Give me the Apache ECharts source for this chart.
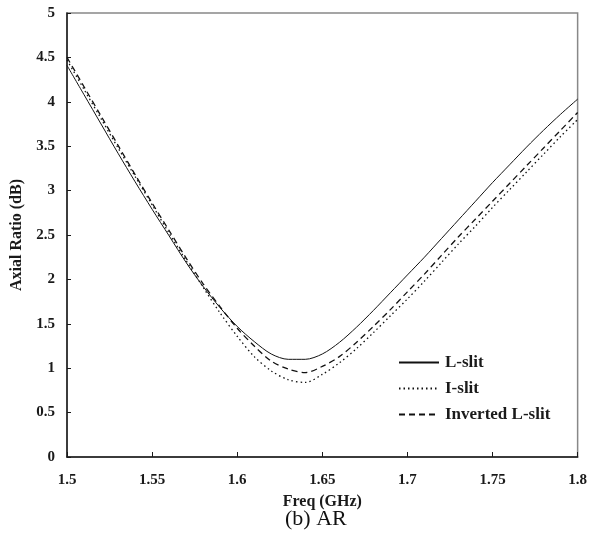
<!DOCTYPE html>
<html>
<head>
<meta charset="utf-8">
<script src="https://cdn.jsdelivr.net/npm/echarts@6/dist/echarts.min.js"></script>
<style>
html, body { margin: 0; padding: 0; background: #fff; }
#container { width: 590px; height: 543px; }
</style>
</head>
<body>
<div id="container"></div>
<script>
var freq = [1.50, 1.51, 1.52, 1.53, 1.54, 1.55, 1.56, 1.57, 1.58, 1.59, 1.60,
            1.61, 1.62, 1.63, 1.64, 1.65, 1.66, 1.67, 1.68, 1.69, 1.70,
            1.71, 1.72, 1.73, 1.74, 1.75, 1.76, 1.77, 1.78, 1.79, 1.80];
var lSlit = [4.41, 4.08, 3.75, 3.42, 3.10, 2.79, 2.49, 2.19, 1.92, 1.68, 1.47,
             1.30, 1.16, 1.10, 1.10, 1.16, 1.29, 1.46, 1.65, 1.85, 2.05,
             2.25, 2.46, 2.67, 2.88, 3.09, 3.29, 3.49, 3.68, 3.86, 4.03];
var iSlit = [4.47, 4.14, 3.81, 3.48, 3.16, 2.84, 2.52, 2.21, 1.91, 1.62, 1.36,
             1.13, 0.97, 0.87, 0.84, 0.93, 1.06, 1.22, 1.40, 1.59, 1.78,
             1.98, 2.19, 2.40, 2.60, 2.81, 3.01, 3.21, 3.41, 3.61, 3.80];
var invLSlit = [4.50, 4.17, 3.84, 3.51, 3.18, 2.86, 2.55, 2.24, 1.95, 1.69, 1.45,
                1.25, 1.08, 0.99, 0.95, 1.02, 1.13, 1.29, 1.47, 1.66, 1.86,
                2.06, 2.27, 2.48, 2.68, 2.88, 3.08, 3.28, 3.48, 3.68, 3.88];
var seriesNames = ['L-slit', 'I-slit', 'Inverted L-slit'];

var dom = document.getElementById("container");
var myChart = echarts.init(dom);

function pairs(ys) {
    var out = [];
    for (var i = 0; i < freq.length; i++) {
        out.push([freq[i], ys[i]]);
    }
    return out;
}

var fontFam = '"Liberation Serif", "Times New Roman", serif';

var option = {
    animation: false,
    grid: {
        left: 67,
        right: 7,
        top: 13,
        bottom: 86,
        show: true,
        borderColor: '#888',
        borderWidth: 1.5
    },
    legend: {
        orient: 'vertical',
        left: 393,
        top: 349,
        itemGap: 9,
        itemWidth: 40,
        itemHeight: 14,
        data: seriesNames,
        itemStyle: { opacity: 0 },
        textStyle: {
            fontFamily: fontFam,
            fontWeight: 'bold',
            fontSize: 17,
            lineHeight: 17,
            color: '#1a1a1a',
            padding: [0, 0, 0, 1]
        }
    },
    xAxis: {
        type: 'value',
        min: 1.5,
        max: 1.8,
        interval: 0.05,
        name: 'Freq (GHz)',
        nameLocation: 'middle',
        nameGap: 37,
        nameTextStyle: {
            fontFamily: fontFam,
            fontWeight: 'bold',
            fontSize: 16,
            color: '#1a1a1a'
        },
        axisLine: { lineStyle: { color: '#1a1a1a', width: 1.5 } },
        axisTick: { inside: true, length: 5, lineStyle: { color: '#1a1a1a' } },
        axisLabel: {
            margin: 16,
            fontFamily: fontFam,
            fontWeight: 'bold',
            fontSize: 15,
            color: '#1a1a1a'
        },
        splitLine: { show: false }
    },
    yAxis: {
        type: 'value',
        min: 0,
        max: 5,
        interval: 0.5,
        name: 'Axial Ratio (dB)',
        nameLocation: 'middle',
        nameGap: 38,
        nameTextStyle: {
            fontFamily: fontFam,
            fontWeight: 'bold',
            fontSize: 16,
            color: '#1a1a1a'
        },
        axisLine: { show: true, lineStyle: { color: '#1a1a1a', width: 1.5 } },
        axisTick: { show: true, inside: true, length: 4, lineStyle: { color: '#1a1a1a' } },
        axisLabel: {
            margin: 12,
            fontFamily: fontFam,
            fontWeight: 'bold',
            fontSize: 15,
            color: '#1a1a1a'
        },
        splitLine: { show: false }
    },
    graphic: [{
        type: 'text',
        left: 285,
        top: 508,
        style: {
            text: '(b) AR',
            fontFamily: fontFam,
            fontSize: 22,
            fill: '#111'
        }
    }],
    series: [
        {
            name: seriesNames[0],
            type: 'line',
            symbol: 'none',
            smooth: 0.3,
            data: pairs(lSlit),
            lineStyle: { color: '#111', width: 1, type: 'solid' },
            itemStyle: { color: '#111' }
        },
        {
            name: seriesNames[1],
            type: 'line',
            symbol: 'none',
            smooth: 0.3,
            data: pairs(iSlit),
            lineStyle: { color: '#111', width: 1.3, type: [1.5, 3] },
            itemStyle: { color: '#111' }
        },
        {
            name: seriesNames[2],
            type: 'line',
            symbol: 'none',
            smooth: 0.3,
            data: pairs(invLSlit),
            lineStyle: { color: '#111', width: 1.3, type: [6, 4] },
            itemStyle: { color: '#111' }
        }
    ]
};

myChart.setOption(option);
</script>
</body>
</html>
